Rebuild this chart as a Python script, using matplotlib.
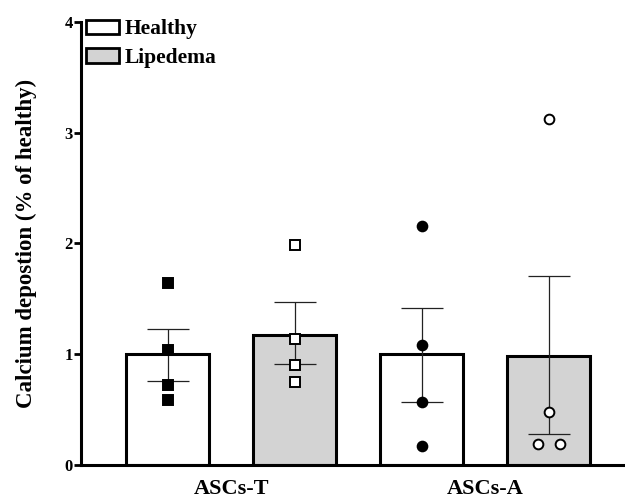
import matplotlib.pyplot as plt
from matplotlib.patches import Patch
import numpy as np

plt.rcParams['font.family'] = ['Liberation Serif', 'DejaVu Serif']
plt.rcParams['font.weight'] = 'bold'

groups = ['ASCs-T', 'ASCs-A']
series = ['Healthy', 'Lipedema']
means = [1.0, 1.17, 1.0, 0.98]
sem_low = [0.24, 0.26, 0.43, 0.70]
sem_high = [0.23, 0.30, 0.42, 0.73]
points = [
    [1.64, 1.04, 0.72, 0.59],
    [1.99, 1.14, 0.90, 0.75],
    [2.16, 1.08, 0.57, 0.17],
    [3.12, 0.48, 0.19, 0.19],
]
jitter = [
    [0, 0, 0, 0],
    [0, 0, 0, 0],
    [0, 0, 0, 0],
    [0, 0, -0.085, 0.085],
]
fills = ['white', '#d3d3d3', 'white', '#d3d3d3']
markers = ['s', 's', 'o', 'o']
marker_fill = ['black', 'white', 'black', 'white']

fig = plt.figure(figsize=(6.25, 5.01), dpi=100)
ax = fig.add_axes([0.130, 0.072, 0.87, 0.884])

x = np.arange(4)
ax.bar(x, means, width=0.65, color=fills, edgecolor='black', linewidth=2.2, zorder=1)
ax.errorbar(x, means, yerr=[sem_low, sem_high], fmt='none', ecolor='#222222',
            elinewidth=0.9, capsize=15, capthick=0.9, zorder=3)
for i in range(4):
    ax.plot(x[i] + np.array(jitter[i]), points[i], linestyle='none', marker=markers[i],
            markersize=7, markerfacecolor=marker_fill[i], markeredgecolor='black',
            markeredgewidth=1.4, zorder=4)

ax.set_xlim(-0.68, 3.6)
ax.set_ylim(0, 4)
ax.set_yticks([0, 1, 2, 3, 4])
ax.tick_params(axis='y', labelsize=12, width=2, length=5, pad=1)
ax.set_xticks([0.5, 2.5])
ax.set_xticklabels(groups, fontsize=16, fontweight='bold')
ax.tick_params(axis='x', length=0, pad=10)
ax.spines['top'].set_visible(False)
ax.spines['right'].set_visible(False)
ax.spines['left'].set_linewidth(2.2)
ax.spines['bottom'].set_linewidth(2.2)
ax.set_ylabel('Calcium depostion (% of healthy)', fontsize=16.5, fontweight='bold', labelpad=20)

handles = [Patch(facecolor=fills[0], edgecolor='black', linewidth=2),
           Patch(facecolor=fills[1], edgecolor='black', linewidth=2)]
ax.legend(handles, series, loc='upper left', bbox_to_anchor=(-0.015, 1.035), frameon=False,
          fontsize=15.5, handlelength=1.55, handleheight=0.65, handletextpad=0.25,
          labelspacing=0.4, borderaxespad=0.2)

plt.savefig('out.png', dpi=100)
